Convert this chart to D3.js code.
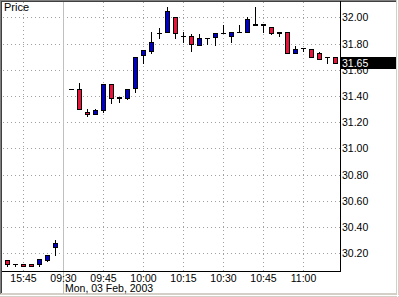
<!DOCTYPE html>
<html><head><meta charset="utf-8">
<script src="https://cdn.jsdelivr.net/npm/d3@7/dist/d3.min.js"></script>
<style>html,body{margin:0;padding:0;background:#fff;overflow:hidden}svg{display:block}</style>
</head><body><svg id="c" width="399" height="297"></svg>
<script>
const title = "Price";
const dateLabel = "Mon, 03 Feb, 2003";
const times = ["15:39","15:42","15:45","15:48","15:51","15:54","15:57",
  "09:30","09:33","09:36","09:39","09:42","09:45","09:48","09:51","09:54","09:57",
  "10:00","10:03","10:06","10:09","10:12","10:15","10:18","10:21","10:24","10:27",
  "10:30","10:33","10:36","10:39","10:42","10:45","10:48","10:51","10:54","10:57",
  "11:00","11:03","11:06","11:09","11:12"];
const openP  = [30.15,30.12,30.115,30.115,30.12,30.15,30.25,null,
  31.45,31.45,31.275,31.26,31.29,31.495,31.39,31.385,31.46,31.71,31.74,31.88,31.89,32.00,
  31.855,31.855,31.785,31.84,31.85,31.88,31.855,31.885,31.885,31.95,31.95,31.925,31.88,
  31.89,31.725,31.765,31.755,31.725,31.695,31.695];
const highP  = [30.15,30.12,30.115,30.115,30.155,30.19,30.30,null,
  31.45,31.50,31.30,31.30,31.495,31.495,31.39,31.45,31.695,31.75,31.89,31.915,32.08,32.00,
  31.89,31.87,31.87,31.84,31.88,31.94,31.89,31.945,32.00,32.075,31.95,31.925,31.89,
  31.89,31.78,31.765,31.755,31.735,31.695,31.695];
const lowP   = [30.10,30.10,30.10,30.10,30.10,30.14,30.185,null,
  31.45,31.30,31.25,31.26,31.275,31.35,31.355,31.38,31.43,31.65,31.725,31.84,31.89,31.845,
  31.815,31.745,31.785,31.795,31.785,31.88,31.81,31.885,31.885,31.945,31.89,31.87,31.855,
  31.725,31.725,31.745,31.695,31.68,31.65,31.65];
const closeP = [30.12,30.12,30.10,30.10,30.155,30.19,30.28,null,
  31.45,31.30,31.26,31.29,31.495,31.385,31.385,31.45,31.695,31.75,31.81,31.88,32.045,31.88,
  31.855,31.795,31.84,31.84,31.88,31.88,31.89,31.885,31.985,31.945,31.945,31.88,31.89,
  31.725,31.755,31.765,31.695,31.68,31.695,31.65];
const yTicks = [30.2,30.4,30.6,30.8,31.0,31.2,31.4,31.6,31.8,32.0];
const xTickLabels = ["15:45","09:30","09:45","10:00","10:15","10:30","10:45","11:00"];
const sessionStart = "09:30";
const lastPrice = 31.65;

const svg = d3.select("#c");
const W = 399, H = 297;
const plotL = 2, plotR = 340, plotT = 1, plotB = 271;

const x = d3.scaleLinear().domain([0, times.length - 1]).range([7, 335]);
const y = d3.scaleLinear().domain([30.2, 32.0]).range([253.3, 17.3]);
const fnt = "'Liberation Sans', Arial, sans-serif";
const fs = 10.5;

// outer frame
svg.append("rect").attr("x",0).attr("y",0).attr("width",W).attr("height",H).attr("fill","#fff");
svg.append("rect").attr("x",0).attr("y",293).attr("width",W).attr("height",4).attr("fill","#d4d0c8");
svg.append("rect").attr("x",396).attr("y",0).attr("width",3).attr("height",H).attr("fill","#d4d0c8");
svg.append("line").attr("x1",0).attr("x2",W).attr("y1",295.5).attr("y2",295.5).attr("stroke","#fff");
svg.append("line").attr("x1",397.5).attr("x2",397.5).attr("y1",0).attr("y2",H).attr("stroke","#fff");
svg.append("line").attr("x1",0).attr("x2",396).attr("y1",0.5).attr("y2",0.5).attr("stroke","#808080");
svg.append("line").attr("x1",0.5).attr("x2",0.5).attr("y1",0).attr("y2",294).attr("stroke","#808080");
svg.append("line").attr("x1",1).attr("x2",396).attr("y1",1.5).attr("y2",1.5).attr("stroke","#404040");
svg.append("line").attr("x1",1.5).attr("x2",1.5).attr("y1",1).attr("y2",293).attr("stroke","#404040");

// grid
const g = svg.append("g");
yTicks.forEach(t => {
  const yy = Math.round(y(t)) + 0.5;
  g.append("line").attr("x1",plotL+1).attr("x2",plotR).attr("y1",yy).attr("y2",yy)
    .attr("stroke","#a0a0a0").attr("stroke-dasharray","1,3");
});
xTickLabels.forEach(lab => {
  const i = times.indexOf(lab);
  const xx = Math.round(x(i)) + 0.5;
  if (lab === sessionStart) {
    g.append("line").attr("x1",xx).attr("x2",xx).attr("y1",plotT+1).attr("y2",294)
      .attr("stroke","#c0c0c0");
  } else {
    g.append("line").attr("x1",xx).attr("x2",xx).attr("y1",plotT+1).attr("y2",plotB)
      .attr("stroke","#a0a0a0").attr("stroke-dasharray","1,3");
  }
  svg.append("text").attr("x",x(i)+0.5).attr("y",281.5).attr("text-anchor","middle")
    .attr("font-family",fnt).attr("font-size",fs).attr("fill","#000").text(lab);
});
svg.append("text").attr("x", x(times.indexOf(sessionStart)) + 2).attr("y",292)
  .attr("font-family",fnt).attr("font-size",fs).attr("fill","#000").text(dateLabel);

// axes lines
svg.append("line").attr("x1",plotR+0.5).attr("x2",plotR+0.5).attr("y1",plotT).attr("y2",plotB+1).attr("stroke","#000");
svg.append("line").attr("x1",plotL).attr("x2",plotR+1).attr("y1",plotB+0.5).attr("y2",plotB+0.5).attr("stroke","#000");

// y labels
yTicks.forEach(t => {
  svg.append("text").attr("x",342).attr("y",y(t)+4).attr("font-family",fnt)
    .attr("font-size",fs).attr("fill","#000").text(t.toFixed(2));
});

// candles
const cg = svg.append("g");
times.forEach((t, i) => {
  if (openP[i] == null) return;
  const cx = Math.round(x(i));
  const yO = Math.round(y(openP[i])), yC = Math.round(y(closeP[i]));
  const yH = Math.round(y(highP[i])), yL = Math.round(y(lowP[i]));
  cg.append("line").attr("x1",cx+0.5).attr("x2",cx+0.5).attr("y1",yH).attr("y2",yL+1).attr("stroke","#000");
  const top = Math.min(yO,yC), bot = Math.max(yO,yC);
  if (bot - top < 2) {
    cg.append("rect").attr("x",cx-2).attr("y",top).attr("width",5).attr("height",bot-top+1).attr("fill","#000");
  } else {
    const col = closeP[i] > openP[i] ? "#0000c8" : "#e8143c";
    cg.append("rect").attr("x",cx-1.5).attr("y",top+0.5).attr("width",4).attr("height",bot-top)
      .attr("fill",col).attr("stroke","#000");
  }
});

// last price marker
const yl = y(lastPrice);
svg.append("rect").attr("x",341).attr("y",Math.round(yl)-6).attr("width",55).attr("height",12).attr("fill","#000");
svg.append("text").attr("x",342).attr("y",yl+4).attr("font-family",fnt).attr("font-size",fs)
  .attr("fill","#fff").text(lastPrice.toFixed(2));

// title
svg.append("text").attr("x",4).attr("y",11).attr("font-family",fnt).attr("font-size",11)
  .attr("fill","#000").text(title);
</script></body></html>
